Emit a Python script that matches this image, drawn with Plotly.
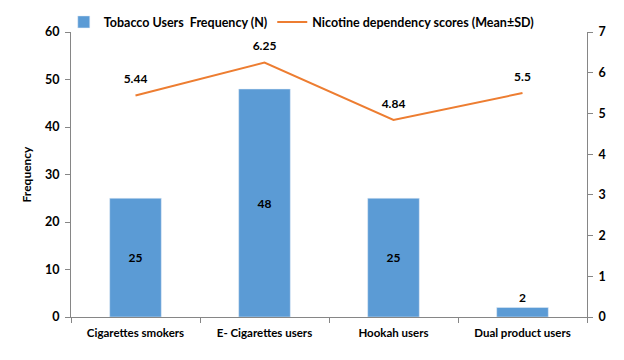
import plotly.graph_objects as go

categories = ["Cigarettes smokers", "E- Cigarettes users", "Hookah users", "Dual product users"]
frequency = [25, 48, 25, 2]
nicotine = [5.44, 6.25, 4.84, 5.5]
freq_labels = ["25", "48", "25", "2"]
nic_labels = ["5.44", "6.25", "4.84", "5.5"]

FONT = "Lato"
fig = go.Figure()
fig.add_trace(go.Bar(
    x=categories, y=frequency, name="Tobacco Users  Frequency (N)",
    marker_color="#5B9BD5", width=0.4,
    text=freq_labels, textposition="auto", insidetextanchor="middle",
    constraintext="none", cliponaxis=False,
    textfont=dict(family=FONT, size=12, color="black", weight="bold"),
    outsidetextfont=dict(family=FONT, size=12, color="black", weight="bold"),
    insidetextfont=dict(family=FONT, size=12, color="black", weight="bold"),
    textangle=0,
))
fig.add_trace(go.Scatter(
    x=categories, y=nicotine, name="Nicotine dependency scores (Mean±SD)",
    mode="lines+markers+text", line=dict(color="#ED7D31", width=2),
    marker=dict(size=13, color="rgba(0,0,0,0)"),
    text=nic_labels, textposition="top center",
    textfont=dict(family=FONT, size=12, color="black", weight="bold"),
    yaxis="y2", cliponaxis=False,
))
fig.update_layout(
    width=616, height=352,
    margin=dict(l=63, r=37, t=24, b=43, autoexpand=False),
    plot_bgcolor="white", paper_bgcolor="white",
    font=dict(family=FONT, size=12, color="black"),
    showlegend=True,
    legend=dict(orientation="h", x=-0.014, xanchor="left", y=1.034, yanchor="middle",
                font=dict(family=FONT, size=12.5, weight="bold"), bgcolor="rgba(0,0,0,0)",
                tracegroupgap=0),
    xaxis=dict(showline=True, linecolor="#868686", ticks="outside", tickson="boundaries",
               tickcolor="#868686", ticklen=5, showgrid=False, ticklabelstandoff=5,
               tickfont=dict(family=FONT, size=11.5, weight="bold")),
    yaxis=dict(range=[0, 60], dtick=10, showline=True, linecolor="#868686", ticks="outside",
               tickcolor="#868686", ticklen=5, showgrid=False, zeroline=False,
               ticklabelstandoff=3,
               tickfont=dict(family=FONT, size=12.5, weight="bold"),
               title=dict(text="Frequency", font=dict(family=FONT, size=12, weight="bold"), standoff=10)),
    yaxis2=dict(range=[0, 7], dtick=1, overlaying="y", side="right", showline=True,
                linecolor="#868686", ticks="outside", tickcolor="#868686", ticklen=5,
                showgrid=False, zeroline=False, ticklabelstandoff=3,
                tickfont=dict(family=FONT, size=12.5, weight="bold")),
)
fig.write_html("out.html")
